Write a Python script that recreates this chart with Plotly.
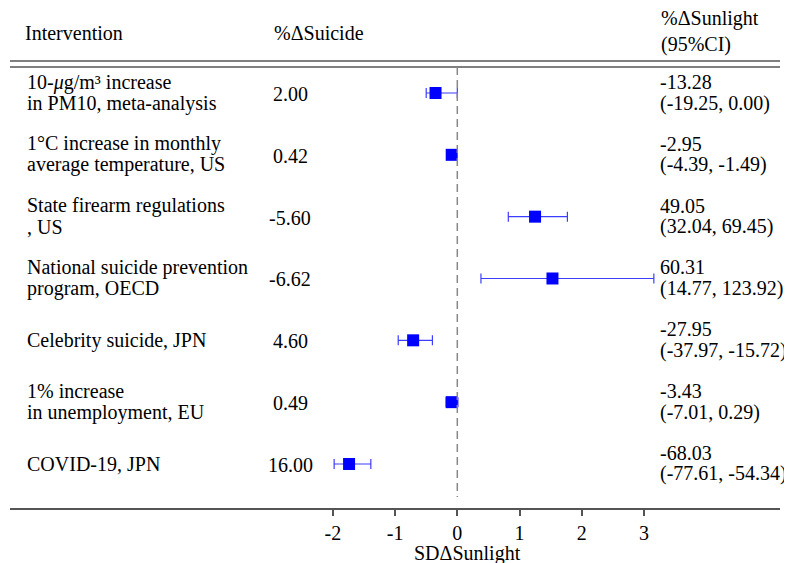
import plotly.graph_objects as go

# ---------------- data ----------------
interventions = [
    ["10-<i>μ</i>g/m³ increase", "in PM10, meta-analysis"],
    ["1°C increase in monthly", "average temperature, US"],
    ["State firearm regulations", ", US"],
    ["National suicide prevention", "program, OECD"],
    ["Celebrity suicide, JPN"],
    ["1% increase", "in unemployment, EU"],
    ["COVID-19, JPN"],
]
suicide_pct = [2.00, 0.42, -5.60, -6.62, 4.60, 0.49, 16.00]
sunlight_pct = [-13.28, -2.95, 49.05, 60.31, -27.95, -3.43, -68.03]
sunlight_lo = [-19.25, -4.39, 32.04, 14.77, -37.97, -7.01, -77.61]
sunlight_hi = [0.00, -1.49, 69.45, 123.92, -15.72, 0.29, -54.34]
sd_sunlight = [-0.35, -0.09, 1.25, 1.53, -0.71, -0.09, -1.74]
sd_lo = [-0.50, -0.12, 0.82, 0.38, -0.95, -0.18, -1.98]
sd_hi = [0.00, -0.04, 1.77, 3.16, -0.40, 0.01, -1.39]
tick_vals = [-2, -1, 0, 1, 2, 3]
tick_labels = ["-2", "-1", "0", "1", "2", "3"]

# ---------------- layout helpers ----------------
OFF = 8                      # page body margin of the browser
W, H = 792 - OFF, 563 - OFF  # figure size
ML = 10 - OFF                # plot area spans page x 10..780, y 8..508
MR = W - (780 - OFF)
MT = 0
MB = H - (508 - OFF)
PW, PH = W - ML - MR, H - MT - MB
FONT = "Liberation Serif, Times New Roman, serif"
FS = 20

def px(p):  # reference pixel x -> paper
    return (p - OFF - ML) / PW

def py(p):  # reference pixel y -> paper
    return 1 - (p - OFF - MT) / PH

n = len(interventions)
yvals = [n - i for i in range(n)]

fig = go.Figure()
fig.add_trace(go.Scatter(
    x=sd_sunlight, y=yvals, mode="markers",
    marker=dict(symbol="square", size=12, color="#0000ff", line=dict(width=0)),
    error_x=dict(type="data", symmetric=False,
                 array=[h - v for h, v in zip(sd_hi, sd_sunlight)],
                 arrayminus=[v - l for v, l in zip(sd_sunlight, sd_lo)],
                 color="#3d3dff", thickness=1.2, width=5),
    showlegend=False, hoverinfo="skip",
))

ann = []
def text(x, y, t, xanchor="left", yref="paper", yshift=0):
    ann.append(dict(x=x, y=y, xref="paper", yref=yref, text=t, showarrow=False,
                    xanchor=xanchor, yanchor="middle", yshift=yshift,
                    font=dict(family=FONT, size=FS, color="black")))

# headers
text(px(23), py(33), "Intervention")
text(px(272), py(33), "%ΔSuicide")
text(px(659), py(18), "%ΔSunlight")
text(px(659), py(45), "(95%CI)")

for i in range(n):
    yv = yvals[i]
    lines = interventions[i]
    if len(lines) == 1:
        text(px(25), yv, lines[0], yref="y")
    else:
        text(px(25), yv, lines[0], yref="y", yshift=11)
        text(px(25), yv, lines[1], yref="y", yshift=-10)
    text(px(290), yv, f"{suicide_pct[i]:.2f}", xanchor="center", yref="y", yshift=-1)
    text(px(658), yv, f"{sunlight_pct[i]:.2f}", yref="y", yshift=11)
    text(px(658), yv, f"({sunlight_lo[i]:.2f}, {sunlight_hi[i]:.2f})", yref="y", yshift=-10)

# axis title
text(px(467), py(553), "SDΔSunlight", xanchor="center")

shapes = [
    dict(type="line", xref="paper", yref="paper", x0=0, x1=1, y0=py(61), y1=py(61),
         line=dict(color="#555555", width=1.5)),
    dict(type="line", xref="paper", yref="paper", x0=0, x1=1, y0=py(67), y1=py(67),
         line=dict(color="#555555", width=1.5)),
    dict(type="line", xref="x", yref="paper", x0=0, x1=0, y0=py(67), y1=py(497),
         line=dict(color="#888888", width=1.5, dash="8px,5px")),
]

x0px, unit = 457.3 - OFF, 62.2
xr = [(ML - x0px) / unit, (W - MR - x0px) / unit]
row0 = 93 - OFF
step = 61.83
ytop = n + (row0 - MT) / step
ybot = n - (H - MB - row0) / step

fig.update_layout(
    width=W, height=H, margin=dict(l=ML, r=MR, t=MT, b=MB),
    paper_bgcolor="white", plot_bgcolor="white",
    xaxis=dict(range=xr, showgrid=False, zeroline=False, showline=True,
               linecolor="#555555", linewidth=1.5, ticks="outside", ticklen=6,
               tickwidth=1.5, tickcolor="#555555", tickvals=tick_vals, ticktext=tick_labels,
               tickfont=dict(family=FONT, size=FS, color="black")),
    yaxis=dict(range=[ybot, ytop], visible=False),
    annotations=ann, shapes=shapes,
)

fig.write_html("out.html")
